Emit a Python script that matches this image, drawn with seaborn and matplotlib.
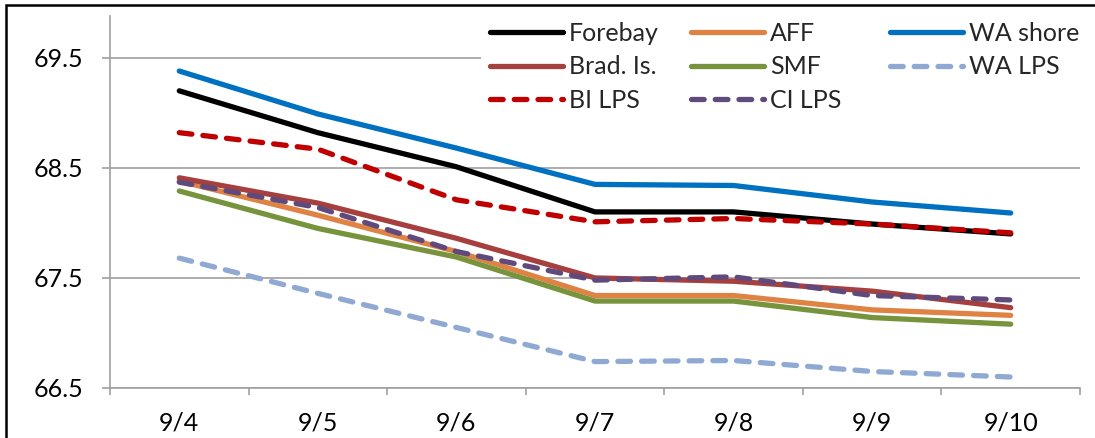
import pandas as pd
import matplotlib.pyplot as plt
import seaborn as sns
from matplotlib.patches import Rectangle

# Dados
datas = ['9/4', '9/5', '9/6', '9/7', '9/8', '9/9', '9/10']
forebay = [69.20, 68.82, 68.51, 68.10, 68.10, 67.99, 67.90]
aff = [68.38, 68.07, 67.74, 67.34, 67.34, 67.21, 67.16]
wa_shore = [69.38, 68.99, 68.68, 68.35, 68.34, 68.19, 68.09]
brad_is = [68.41, 68.18, 67.86, 67.50, 67.47, 67.38, 67.23]
smf = [68.29, 67.95, 67.69, 67.29, 67.29, 67.14, 67.08]
wa_lps = [67.68, 67.36, 67.05, 66.74, 66.75, 66.65, 66.60]
bi_lps = [68.82, 68.67, 68.21, 68.01, 68.04, 67.99, 67.91]
ci_lps = [68.37, 68.14, 67.74, 67.48, 67.51, 67.34, 67.30]
yticks = [66.5, 67.5, 68.5, 69.5]

series = {
    'Forebay': (forebay, '#000000', '-'),
    'AFF': (aff, '#DE8344', '-'),
    'WA shore': (wa_shore, '#0070C0', '-'),
    'Brad. Is.': (brad_is, '#A5403F', '-'),
    'SMF': (smf, '#77933C', '-'),
    'WA LPS': (wa_lps, '#8FA9D2', 'dash'),
    'BI LPS': (bi_lps, '#C00000', 'dash'),
    'CI LPS': (ci_lps, '#604A7B', 'dash'),
}

sns.set_theme(style='white')
plt.rcParams['font.family'] = ['Lato', 'DejaVu Sans']

W, H = 1095, 438
fig = plt.figure(figsize=(W / 100, H / 100), dpi=100)
ax = fig.add_axes([110 / W, 1 - 388 / H, 970 / W, (388 - 16) / H])

handles = {}
for nome, (valores, cor, estilo) in series.items():
    df = pd.DataFrame({'data': datas, 'valor': valores})
    if estilo == 'dash':
        ls = (0, (2.4, 2.1))
    else:
        ls = '-'
    sns.lineplot(data=df, x='data', y='valor', ax=ax, color=cor, linewidth=3.8,
                 linestyle=ls, dash_capstyle='round', solid_capstyle='round',
                 sort=False, label=nome)
    handles[nome] = ax.lines[-1]

ax.set_xlim(-0.5, len(datas) - 0.5)
ax.set_ylim(66.5, 69.88)
ax.set_yticks(yticks)
ax.set_yticklabels([f'{v:.1f}' for v in yticks])
ax.set_xticks(range(len(datas)))
ax.set_xticklabels(datas)
ax.set_xticks([i - 0.5 for i in range(len(datas) + 1)], minor=True)
ax.set_xlabel('')
ax.set_ylabel('')

ax.grid(axis='y', color='#A0A0A0', linewidth=1.2)
ax.set_axisbelow(True)
for lado in ['top', 'right']:
    ax.spines[lado].set_visible(False)
for lado in ['left', 'bottom']:
    ax.spines[lado].set_color('#A0A0A0')
    ax.spines[lado].set_linewidth(1.2)

ax.tick_params(axis='y', which='major', left=True, length=6, width=1.2, color='#A0A0A0',
               labelsize=18, pad=13.5, labelcolor='black')
ax.tick_params(axis='x', which='major', bottom=False, length=0, labelsize=18, pad=17,
               labelcolor='black')
ax.tick_params(axis='x', which='minor', bottom=True, length=5, width=1.2, color='#A0A0A0')

# Fundo branco atrás da legenda (esconde a linha de grade)
ax.add_patch(Rectangle((481 / W, 1 - 112 / H), (1080 - 481) / W, 95 / H,
                       transform=fig.transFigure, facecolor='white', edgecolor='none',
                       zorder=1.5))

# Legenda em três colunas com posições fixas
colunas = [['Forebay', 'Brad. Is.', 'BI LPS'],
           ['AFF', 'SMF', 'CI LPS'],
           ['WA shore', 'WA LPS']]
inicio_x = [490, 691, 890]
ax.get_legend().remove()
for nomes, x0 in zip(colunas, inicio_x):
    leg = fig.legend([handles[n] for n in nomes], nomes, loc='upper left',
                     bbox_to_anchor=(x0 / W, 1 - 22 / H), frameon=False, fontsize=18,
                     handlelength=2.9, handletextpad=0.25, labelspacing=0.42,
                     borderpad=0, borderaxespad=0)

# Moldura do gráfico
fig.patches.append(Rectangle((6 / W, -0.1), 1.2, 1 - 5 / H + 0.1, transform=fig.transFigure,
                             fill=False, edgecolor='black', linewidth=1.8))

fig.savefig('out.png', dpi=100)
